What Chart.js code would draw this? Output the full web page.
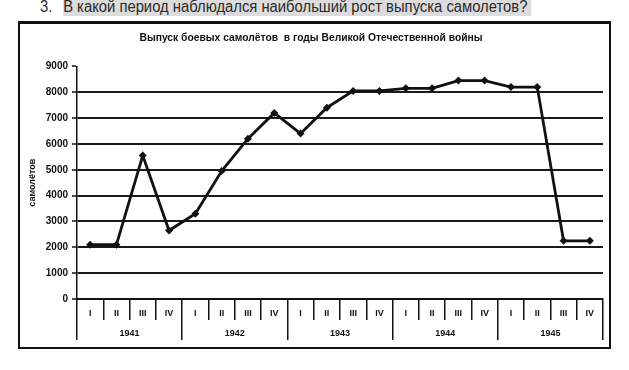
<!DOCTYPE html>
<html>
<head>
<meta charset="utf-8">
<script src="https://cdn.jsdelivr.net/npm/chart.js@4/dist/chart.umd.min.js"></script>
<style>
  html, body { margin: 0; padding: 0; background: #fff; width: 629px; height: 370px; overflow: hidden; position: relative; }
  .q { position: absolute; left: 40px; top: -3px; font-family: "Liberation Sans", Arial, sans-serif; font-size: 16px; color: #2a2a2a; white-space: nowrap; line-height: 19px; transform: scaleX(0.925); transform-origin: 0 0; }
  .q .num { display: inline-block; width: 25px; }
  .q .hl { background: #dcdcdc; padding: 0 4px 1px 0; }
  .box { position: absolute; left: 18px; top: 21px; width: 593px; height: 328px; box-sizing: border-box; border: 2px solid #111; border-top-width: 3px; }
  canvas { position: absolute; left: 0; top: 0; }
</style>
</head>
<body>
<div class="q"><span class="num">3.</span><span class="hl">В какой период наблюдался наибольший рост выпуска самолетов?</span></div>
<div class="box"></div>
<canvas id="c" width="629" height="370"></canvas>
<script>
const quarters = ["I","II","III","IV","I","II","III","IV","I","II","III","IV","I","II","III","IV","I","II","III","IV"];
const years = ["1941","1942","1943","1944","1945"];
const aircraft = [2100,2100,5550,2650,3300,4950,6200,7200,6400,7400,8050,8050,8150,8150,8450,8450,8200,8200,2250,2250];
const yTicks = [0,1000,2000,3000,4000,5000,6000,7000,8000,9000];
const chartTitle = "Выпуск боевых самолётов  в годы Великой Отечественной войны";
const yTitle = "самолётов";

const FONT = "'Liberation Sans', Arial, sans-serif";

new Chart(document.getElementById('c'), {
  type: 'line',
  data: {
    labels: quarters,
    datasets: [{
      data: aircraft,
      borderColor: '#111',
      backgroundColor: '#111',
      borderWidth: 2.8,
      pointStyle: 'rectRot',
      pointRadius: 4,
      pointBorderWidth: 0,
      tension: 0,
      xAxisID: 'x',
      yAxisID: 'y'
    }]
  },
  options: {
    responsive: false,
    animation: false,
    devicePixelRatio: 1,
    layout: { padding: { left: 19, right: 26, top: 22, bottom: 30 } },
    plugins: {
      legend: { display: false },
      tooltip: { enabled: false },
      title: {
        display: true,
        text: chartTitle,
        color: '#111',
        font: { family: FONT, size: 10.3, weight: 'bold' },
        padding: { top: 10, bottom: 22 }
      }
    },
    scales: {
      y: {
        min: 0, max: 9000,
        afterFit: s => { s.width = 58; },
        afterBuildTicks: s => { s.ticks = yTicks.map(v => ({ value: v })); },
        ticks: { color: '#111', font: { family: FONT, size: 10, weight: 'bold' }, padding: 4, callback: v => String(v) },
        grid: {
          color: c => (c.tick && c.tick.value > 0 && c.tick.value < 9000) ? '#1a1a1a' : 'rgba(0,0,0,0)',
          lineWidth: 2,
          tickColor: '#111',
          tickLength: 5,
          tickWidth: 1.5
        },
        border: { display: true, color: '#111', width: 1.5 },
        title: {
          display: true, text: yTitle, color: '#111',
          font: { family: FONT, size: 9, weight: 'bold' },
          padding: { top: 8, bottom: 0 }
        }
      },
      x: {
        type: 'category',
        position: 'bottom',
        weight: 0,
        offset: true,
        afterFit: s => { s.height = 21; },
        grid: { offset: true, drawOnChartArea: false, drawTicks: true, tickLength: 21, color: '#111', tickColor: '#111', lineWidth: 1.5 },
        border: { display: true, color: '#111', width: 2 },
        ticks: { color: '#111', font: { family: FONT, size: 9, weight: 'bold' }, padding: -12, maxRotation: 0, autoSkip: false }
      },
      x2: {
        type: 'category',
        position: 'bottom',
        weight: 1,
        labels: years,
        offset: true,
        afterFit: s => { s.height = 20; },
        grid: { offset: true, drawOnChartArea: false, drawTicks: true, tickLength: 20, color: '#111', tickColor: '#111', lineWidth: 1.5 },
        border: { display: false },
        ticks: { color: '#111', font: { family: FONT, size: 9, weight: 'bold' }, padding: -12, maxRotation: 0, autoSkip: false }
      }
    }
  }
});
</script>
</body>
</html>
